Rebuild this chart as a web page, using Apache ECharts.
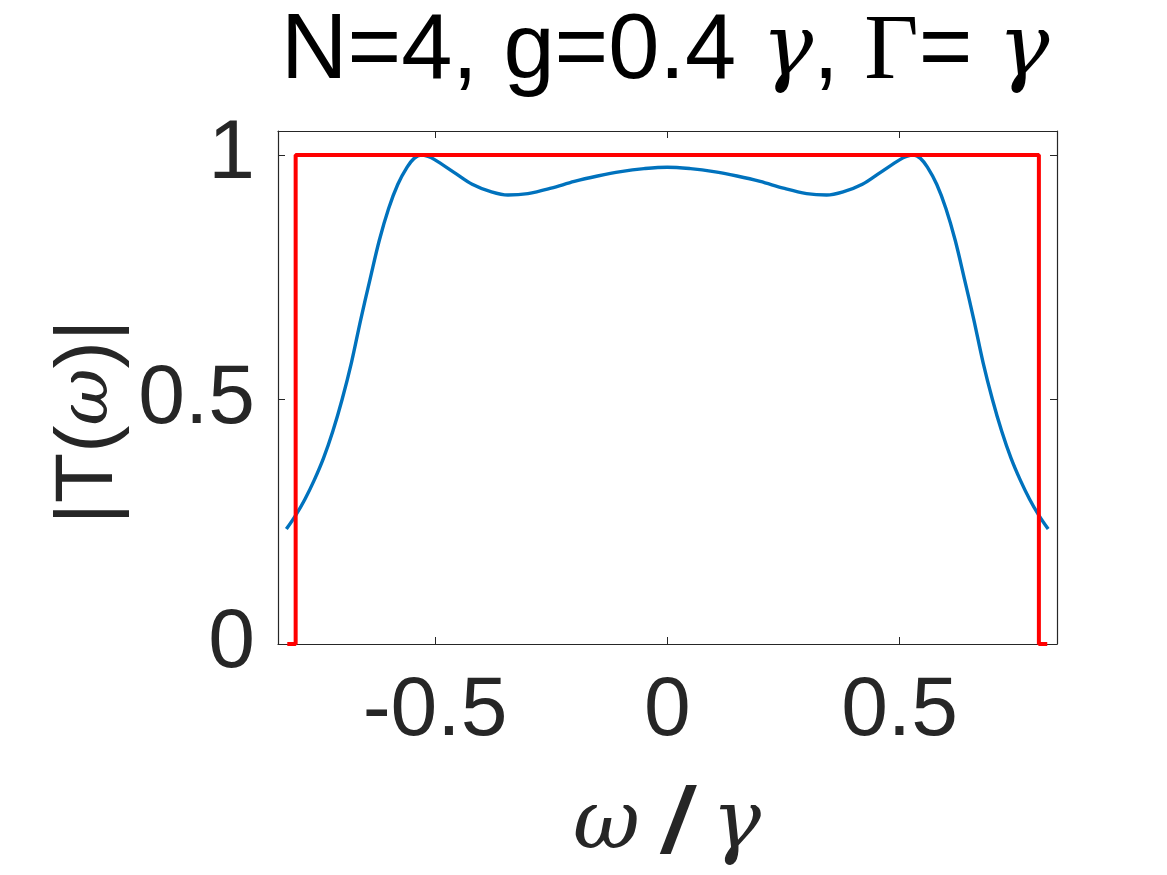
<!DOCTYPE html>
<html>
<head>
<meta charset="utf-8">
<script src="https://cdn.jsdelivr.net/npm/echarts@6/dist/echarts.min.js"></script>
<style>
  html, body { margin: 0; padding: 0; background: #fff; }
  #main { width: 1167px; height: 875px; }
</style>
</head>
<body>
<div id="main"></div>
<script>
// blue curve: |T(w)|
const omegaBlue = [-0.82, -0.80, -0.78, -0.76, -0.74, -0.72, -0.70, -0.68, -0.66, -0.64, -0.62, -0.60, -0.58, -0.56, -0.545, -0.53, -0.515, -0.50, -0.46, -0.42, -0.38, -0.343, -0.30, -0.25, -0.20, -0.15, -0.10, -0.05,
  0, 0.05, 0.10, 0.15, 0.20, 0.25, 0.30, 0.343, 0.38, 0.42, 0.46, 0.50, 0.515, 0.53, 0.545, 0.56, 0.58, 0.60, 0.62, 0.64, 0.66, 0.68, 0.70, 0.72, 0.74, 0.76, 0.78, 0.80, 0.82]
const transBlue = [0.235, 0.263, 0.296, 0.335, 0.38, 0.435, 0.50, 0.575, 0.663, 0.745, 0.825, 0.89, 0.94, 0.975, 0.993, 1.0, 0.997, 0.99, 0.965, 0.94, 0.925, 0.918, 0.921, 0.932, 0.946, 0.957, 0.966, 0.972,
  0.975, 0.972, 0.966, 0.957, 0.946, 0.932, 0.921, 0.918, 0.925, 0.94, 0.965, 0.99, 0.997, 1.0, 0.993, 0.975, 0.94, 0.89, 0.825, 0.745, 0.663, 0.575, 0.50, 0.435, 0.38, 0.335, 0.296, 0.263, 0.235]

// red step
const omegaRed = [-0.818, -0.8, -0.8, 0.8, 0.8, 0.818]
const transRed = [0, 0, 1, 1, 0, 0]

const xTicks = [-0.5, 0, 0.5]
const yTicks = [0, 0.5, 1]

const sans = 'Liberation Sans, Arial, Helvetica, sans-serif'
const serif = 'Liberation Serif, serif'
const greek = 'DejaVu Serif, Liberation Serif, serif'
const grey = '#262626'

const chart = echarts.init(document.getElementById('main'), null, {renderer: 'canvas'})

const zip = (xs, ys) => xs.map((x, i) => [x, ys[i]])

function xAxisOf(pos, labels) {
  return {
    type: 'value',
    position: pos,
    min: -0.838,
    max: 0.839,
    axisLine: {show: true, onZero: false, lineStyle: {color: grey, width: 1.2}},
    axisTick: {show: true, inside: true, length: 7, customValues: xTicks, lineStyle: {color: grey}},
    axisLabel: {show: labels, customValues: xTicks, color: grey, fontFamily: sans, fontSize: 84, margin: 26},
    splitLine: {show: false}
  }
}
function yAxisOf(pos, labels) {
  return {
    type: 'value',
    position: pos,
    min: 0,
    max: 1.049,
    axisLine: {show: true, onZero: false, lineStyle: {color: grey, width: 1.2}},
    axisTick: {show: true, inside: true, length: 7, customValues: yTicks, lineStyle: {color: grey}},
    axisLabel: {show: labels, customValues: yTicks, color: grey, fontFamily: sans, fontSize: 84, margin: 23},
    splitLine: {show: false}
  }
}

const option = {
  animation: false,
  backgroundColor: '#fff',
  grid: {left: 278, right: 110, top: 131, bottom: 231},
  xAxis: [xAxisOf('bottom', true), xAxisOf('top', false)],
  yAxis: [yAxisOf('left', true), yAxisOf('right', false)],
  graphic: [
    {
      type: 'text', x: 281, y: 100,
      style: {
        text: 'N=4, g=0.4 {g|γ}, {G|Γ}= {g|γ}',
        fill: '#000', font: '92px ' + sans, textAlign: 'left', textVerticalAlign: 'bottom',
        rich: {
          g: {fontFamily: greek, fontStyle: 'italic', fontSize: 86, fill: '#000'},
          G: {fontFamily: serif, fontSize: 94, fill: '#000'}
        }
      }
    },
    {
      type: 'text', x: 667, y: 873,
      style: {
        text: '{w|ω} {s|/} {w|γ}',
        fill: grey, font: '84px ' + sans, textAlign: 'center', textVerticalAlign: 'bottom',
        rich: {
          w: {fontFamily: greek, fontStyle: 'italic', fontSize: 82, fill: grey},
          s: {fontFamily: sans, fontStyle: 'italic', fontWeight: 'bold', fontSize: 92, fill: grey}
        }
      }
    },
    {
      type: 'text', x: 89, y: 422, rotation: Math.PI / 2,
      style: {
        text: '|T({w|ω})|',
        fill: grey, font: '82px ' + sans, textAlign: 'center', textVerticalAlign: 'middle',
        rich: {
          w: {fontFamily: greek, fontStyle: 'italic', fontSize: 70, fill: grey}
        }
      }
    }
  ],
  series: [
    {
      type: 'line',
      data: zip(omegaBlue, transBlue),
      showSymbol: false,
      smooth: 0.35,
      lineStyle: {color: '#0072BD', width: 3.4},
      z: 2
    },
    {
      type: 'line',
      data: zip(omegaRed, transRed),
      showSymbol: false,
      clip: false,
      lineStyle: {color: '#FF0000', width: 4},
      z: 3
    }
  ]
}

chart.setOption(option)
</script>
</body>
</html>
